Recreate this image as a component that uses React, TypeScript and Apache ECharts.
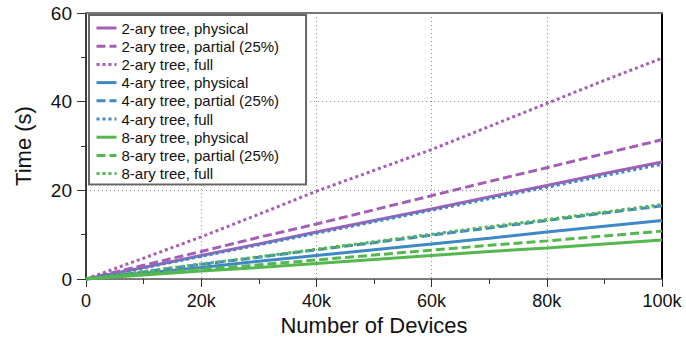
import React, { useEffect, useRef } from "react";
import * as echarts from "echarts";

const devices = [0, 10000, 20000, 30000, 40000, 50000, 60000, 70000, 80000, 90000, 100000];

const seriesNames = [
  "2-ary tree, physical",
  "2-ary tree, partial (25%)",
  "2-ary tree, full",
  "4-ary tree, physical",
  "4-ary tree, partial (25%)",
  "4-ary tree, full",
  "8-ary tree, physical",
  "8-ary tree, partial (25%)",
  "8-ary tree, full",
];

const binaryPhysical = [0, 2.6, 5.3, 7.9, 10.6, 13.2, 15.8, 18.5, 21.1, 23.8, 26.4];
const binaryPartial = [0, 3.1, 6.2, 9.4, 12.4, 15.6, 18.8, 22.0, 25.1, 28.3, 31.4];
const binaryFull = [0, 4.7, 9.5, 14.6, 19.8, 24.5, 29.2, 34.4, 39.6, 44.8, 49.8];
const quadPhysical = [0, 1.3, 2.6, 4.0, 5.3, 6.6, 7.9, 9.2, 10.6, 11.9, 13.2];
const quadPartial = [0, 1.6, 3.3, 4.9, 6.6, 8.2, 9.9, 11.5, 13.2, 14.9, 16.5];
const quadFull = [0, 2.5, 5.1, 7.7, 10.3, 12.9, 15.5, 18.1, 20.7, 23.3, 25.9];
const octPhysical = [0, 0.9, 1.8, 2.6, 3.5, 4.4, 5.3, 6.2, 7.0, 7.9, 8.8];
const octPartial = [0, 1.1, 2.2, 3.2, 4.3, 5.4, 6.5, 7.6, 8.6, 9.7, 10.8];
const octFull = [0, 1.7, 3.4, 5.0, 6.7, 8.4, 10.1, 11.8, 13.4, 15.1, 16.8];

const seriesValues = [
  binaryPhysical, binaryPartial, binaryFull,
  quadPhysical, quadPartial, quadFull,
  octPhysical, octPartial, octFull,
];

const colors = ["#a55eb5", "#a55eb5", "#a55eb5", "#3d88c5", "#3d88c5", "#3d88c5", "#55b74f", "#55b74f", "#55b74f"];
const dashTypes: any[] = ["solid", [9, 4], [3, 3], "solid", [9, 4], [3, 3], "solid", [9, 4], [3, 3]];

const FONT = "'Liberation Sans', Arial, Helvetica, sans-serif";

export default function App() {
  const ref = useRef<HTMLDivElement>(null);
  useEffect(() => {
    if (!ref.current) return;
    document.body.style.margin = "0";
    const chart = echarts.init(ref.current, undefined, { renderer: "svg" });
    const series = seriesNames.map((name, i) => ({
      name,
      type: "line",
      data: devices.map((d, j) => [d, seriesValues[i][j]]),
      symbol: "none",
      showSymbol: false,
      xAxisIndex: 0,
      yAxisIndex: 0,
      lineStyle: { color: colors[i], width: 3, type: dashTypes[i] },
      itemStyle: { color: colors[i] },
      z: 3,
    }));
    chart.setOption({
      animation: false,
      textStyle: { fontFamily: FONT },
      grid: { left: 86, right: 24, top: 13, bottom: 64 },
      legend: {
        orient: "vertical",
        left: 89,
        top: 15,
        padding: [5, 27, 3, 6],
        itemWidth: 20,
        itemHeight: 14,
        itemGap: 2.2,
        backgroundColor: "#fff",
        borderColor: "#666",
        borderWidth: 2,
        borderRadius: 0,
        itemStyle: { opacity: 0 },
        lineStyle: { width: 3 },
        textStyle: { fontSize: 15, color: "#111", fontFamily: FONT, lineHeight: 16 },
        data: seriesNames,
      },
      xAxis: [
        {
          type: "value",
          min: 0,
          max: 100000,
          interval: 20000,
          name: "Number of Devices",
          nameLocation: "middle",
          nameGap: 33,
          nameTextStyle: { fontSize: 22, color: "#111", fontFamily: FONT },
          axisLine: { show: true, lineStyle: { color: "#555", width: 1.5 } },
          axisTick: { show: true, inside: false, length: 8, lineStyle: { color: "#333", width: 1 } },
          minorTick: { show: true, splitNumber: 2, length: 5, lineStyle: { color: "#333", width: 1 } },
          axisLabel: {
            fontSize: 18,
            color: "#111",
            margin: 13,
            fontFamily: FONT,
            formatter: (v: number) => (v === 0 ? "0" : v / 1000 + "k"),
          },
          splitLine: { show: true, lineStyle: { color: "#888", type: [1, 3], width: 1 } },
        },
        {
          type: "value",
          position: "top",
          min: 0,
          max: 100000,
          axisLine: { show: true, onZero: false, lineStyle: { color: "#777", width: 2 } },
          axisTick: { show: false },
          axisLabel: { show: false },
          splitLine: { show: false },
        },
      ],
      yAxis: [
        {
          type: "value",
          min: 0,
          max: 60,
          interval: 20,
          name: "Time (s)",
          nameLocation: "middle",
          nameGap: 52,
          nameTextStyle: { fontSize: 22, color: "#111", fontFamily: FONT },
          axisLine: { show: true, lineStyle: { color: "#000", width: 1.5 } },
          axisTick: { show: true, inside: false, length: 9, lineStyle: { color: "#333", width: 1 } },
          minorTick: { show: true, splitNumber: 2, length: 5, lineStyle: { color: "#333", width: 1 } },
          axisLabel: { fontSize: 19, color: "#111", margin: 14, fontFamily: FONT },
          splitLine: { show: true, lineStyle: { color: "#888", type: [1, 3], width: 1 } },
        },
        {
          type: "value",
          position: "right",
          min: 0,
          max: 60,
          axisLine: { show: true, onZero: false, lineStyle: { color: "#000", width: 2 } },
          axisTick: { show: false },
          axisLabel: { show: false },
          splitLine: { show: false },
        },
      ],
      series,
    });
    return () => chart.dispose();
  }, []);
  return <div ref={ref} style={{ width: 686, height: 343 }} />;
}
